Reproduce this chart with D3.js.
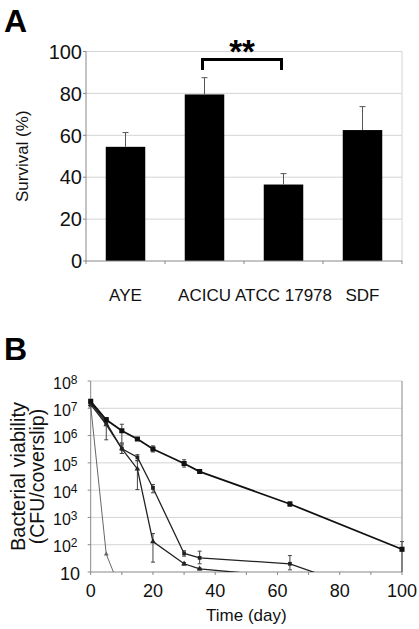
<!DOCTYPE html>
<html>
<head>
<meta charset="utf-8">
<script src="https://cdn.jsdelivr.net/npm/d3@7"></script>
<style>
  html, body { margin: 0; padding: 0; background: #fff; }
  svg { display: block; font-family: "Liberation Sans", Arial, sans-serif; }
</style>
</head>
<body>
<svg id="chart" width="419" height="629"></svg>
<script>
// ---------- Panel A data ----------
const strains = ["AYE", "ACICU", "ATCC 17978", "SDF"];
const survival = [54.5, 79.5, 36.5, 62.5];
const survivalErr = [6.8, 8.0, 5.2, 11.2];
const survivalTicks = [0, 20, 40, 60, 80, 100];

// ---------- Panel B data ----------
const days = [0, 5, 10, 15, 20, 30, 35, 64, 100];
const viabilityS1 = [1.8e7, 3.8e6, 1.5e6, 7.5e5, 3.2e5, 9.5e4, 4.8e4, 3.1e3, 68];
const viabilityS1Lo = [1.5e7, 3.2e6, 5.4e5, 6.6e5, 2.5e5, 7.0e4, 4.2e4, 2.6e3, 5];
const viabilityS1Hi = [2.1e7, 4.6e6, 2.6e6, 8.4e5, 4.2e5, 1.3e5, 5.4e4, 3.7e3, 130];

const daysS2 = [0, 5, 10, 15, 20, 30, 35, 64, 100];
const viabilityS2 = [1.6e7, 3.0e6, 3.3e5, 1.6e5, 1.2e4, 48, 33, 20, 0.7];
const viabilityS2Lo = [1.4e7, 2.4e6, 2.2e5, 1.2e5, 8.0e3, 38, 20, 12, 0.7];
const viabilityS2Hi = [1.8e7, 3.6e6, 5.0e5, 2.0e5, 1.6e4, 60, 58, 40, 0.7];

const daysS3 = [0, 5, 10, 15, 20, 30, 35, 64];
const viabilityS3 = [1.4e7, 2.5e6, 3.3e5, 6.0e4, 130, 20, 13, 6.5];
const viabilityS3Lo = [1.2e7, 7.0e5, 2.2e5, 1.05e4, 23, 18, 12, 6.5];
const viabilityS3Hi = [1.6e7, 4.0e6, 4.5e5, 1.2e5, 256, 22, 14, 6.5];

const daysS4 = [0, 5, 10];
const viabilityS4 = [1.2e7, 45, 1.7];

const dayTicks = [0, 20, 40, 60, 80, 100];
const dayMinorTicks = [0, 10, 20, 30, 40, 50, 60, 70, 80, 90, 100];
const viabilityTicks = [10, 1e2, 1e3, 1e4, 1e5, 1e6, 1e7, 1e8];

const svg = d3.select("#chart");
const gridColor = "#d4d4d4";
const axisColor = "#888";
const textColor = "#111";

// ================= PANEL A =================
const aLeft = 86, aRight = 402, aTop = 51.5, aBottom = 261;
const xA = d3.scaleBand().domain(strains).range([aLeft, aRight]).paddingInner(0.5).paddingOuter(0.25);
const yA = d3.scaleLinear().domain([0, 100]).range([aBottom, aTop]);

svg.append("text").attr("x", 4).attr("y", 32).attr("font-size", 32).attr("font-weight", "bold").text("A");

const gA = svg.append("g");
gA.selectAll("line.grid").data(survivalTicks.filter(d => d > 0)).join("line")
  .attr("x1", aLeft).attr("x2", aRight)
  .attr("y1", d => yA(d)).attr("y2", d => yA(d))
  .attr("stroke", gridColor).attr("stroke-width", 1);
gA.append("line").attr("x1", aRight).attr("x2", aRight).attr("y1", aTop).attr("y2", aBottom)
  .attr("stroke", gridColor);
gA.append("line").attr("x1", aLeft).attr("x2", aLeft).attr("y1", aTop).attr("y2", aBottom)
  .attr("stroke", axisColor);
gA.selectAll("line.ytick").data(survivalTicks).join("line")
  .attr("x1", aLeft - 3).attr("x2", aLeft).attr("y1", d => yA(d)).attr("y2", d => yA(d))
  .attr("stroke", axisColor);
gA.selectAll("text.ytl").data(survivalTicks).join("text")
  .attr("x", aLeft - 4).attr("y", d => yA(d)).attr("dy", "0.36em")
  .attr("text-anchor", "end").attr("font-size", 20).attr("fill", textColor).text(d => d);
gA.selectAll("rect.bar").data(strains).join("rect")
  .attr("x", d => xA(d)).attr("width", xA.bandwidth())
  .attr("y", (d, i) => yA(survival[i])).attr("height", (d, i) => aBottom - yA(survival[i]))
  .attr("fill", "#000");
gA.selectAll("line.err").data(strains).join("line")
  .attr("x1", d => xA(d) + xA.bandwidth() / 2).attr("x2", d => xA(d) + xA.bandwidth() / 2)
  .attr("y1", (d, i) => yA(survival[i])).attr("y2", (d, i) => yA(survival[i] + survivalErr[i]))
  .attr("stroke", "#555").attr("stroke-width", 1);
gA.selectAll("line.cap").data(strains).join("line")
  .attr("x1", d => xA(d) + xA.bandwidth() / 2 - 3).attr("x2", d => xA(d) + xA.bandwidth() / 2 + 3)
  .attr("y1", (d, i) => yA(survival[i] + survivalErr[i])).attr("y2", (d, i) => yA(survival[i] + survivalErr[i]))
  .attr("stroke", "#555").attr("stroke-width", 1);
gA.append("line").attr("x1", aLeft).attr("x2", aRight).attr("y1", aBottom).attr("y2", aBottom)
  .attr("stroke", axisColor);
const boundaries = strains.map(s => xA(s) - xA.step() * 0.25).concat([aRight]);
gA.selectAll("line.xtick").data(boundaries).join("line")
  .attr("x1", d => d).attr("x2", d => d).attr("y1", aBottom).attr("y2", aBottom + 3)
  .attr("stroke", axisColor);
gA.selectAll("text.xtl").data(strains).join("text")
  .attr("x", d => xA(d) + xA.bandwidth() / 2).attr("y", 301)
  .attr("text-anchor", "middle").attr("font-size", 17).attr("fill", textColor).text(d => d);
svg.append("text").attr("transform", `translate(28,${(aTop + aBottom) / 2}) rotate(-90)`)
  .attr("text-anchor", "middle").attr("font-size", 17).attr("fill", textColor).text("Survival (%)");
const bx1 = xA("ACICU") + xA.bandwidth() / 2 - 2, bx2 = xA("ATCC 17978") + xA.bandwidth() / 2 - 2;
gA.append("path")
  .attr("d", `M${bx1},70 V59.5 H${bx2} V70`)
  .attr("fill", "none").attr("stroke", "#000").attr("stroke-width", 3);
gA.append("text").attr("x", (bx1 + bx2) / 2).attr("y", 63).attr("text-anchor", "middle")
  .attr("font-size", 33).attr("font-weight", "bold").text("**");

// ================= PANEL B =================
const bLeft = 90.7, bRight = 402, bTop = 381, bBottom = 572;
const xB = d3.scaleLinear().domain([0, 100]).range([bLeft, bRight]);
const yB = d3.scaleLog().domain([10, 1e8]).range([bBottom, bTop]);

svg.append("text").attr("x", 4).attr("y", 360).attr("font-size", 32).attr("font-weight", "bold").text("B");

const gB = svg.append("g");
gB.selectAll("line.grid").data(viabilityTicks.filter(d => d > 10)).join("line")
  .attr("x1", bLeft).attr("x2", bRight).attr("y1", d => yB(d)).attr("y2", d => yB(d))
  .attr("stroke", gridColor);
gB.append("line").attr("x1", bRight).attr("x2", bRight).attr("y1", bTop).attr("y2", bBottom)
  .attr("stroke", axisColor);
gB.append("line").attr("x1", bLeft).attr("x2", bLeft).attr("y1", bTop).attr("y2", bBottom)
  .attr("stroke", axisColor);
gB.append("line").attr("x1", bLeft).attr("x2", bRight).attr("y1", bBottom).attr("y2", bBottom)
  .attr("stroke", axisColor);
gB.selectAll("line.ytick").data(viabilityTicks).join("line")
  .attr("x1", bLeft - 3).attr("x2", bLeft).attr("y1", d => yB(d)).attr("y2", d => yB(d))
  .attr("stroke", axisColor);
gB.selectAll("line.xtick").data(dayMinorTicks).join("line")
  .attr("x1", d => xB(d)).attr("x2", d => xB(d)).attr("y1", bBottom).attr("y2", bBottom + 3)
  .attr("stroke", axisColor);
const ytl = gB.selectAll("text.ytl").data(viabilityTicks).join("text")
  .attr("x", 77.5).attr("y", d => yB(d) + 2).attr("dy", "0.36em")
  .attr("text-anchor", "end").attr("font-size", 16).attr("fill", textColor);
ytl.each(function(d) {
  const e = Math.round(Math.log10(d));
  const t = d3.select(this);
  if (e === 1) { t.attr("x", 80).attr("font-size", 18).text("10"); return; }
  t.append("tspan").text("10");
  t.append("tspan").attr("dy", -5).attr("font-size", 12).text(e);
});
gB.selectAll("text.xtl").data(dayTicks).join("text")
  .attr("x", d => xB(d)).attr("y", 597).attr("text-anchor", "middle")
  .attr("font-size", 18).attr("fill", textColor).text(d => d);
svg.append("text").attr("x", (bLeft + bRight) / 2).attr("y", 621).attr("text-anchor", "middle")
  .attr("font-size", 17).attr("fill", textColor).text("Time (day)");
svg.append("text").attr("transform", `translate(25,${(bTop + bBottom) / 2}) rotate(-90)`)
  .attr("text-anchor", "middle").attr("font-size", 20).attr("fill", textColor).text("Bacterial viability");
svg.append("text").attr("transform", `translate(44,${(bTop + bBottom) / 2}) rotate(-90)`)
  .attr("text-anchor", "middle").attr("font-size", 19.5).attr("fill", textColor).text("(CFU/coverslip)");

svg.append("clipPath").attr("id", "clipB").append("rect")
  .attr("x", bLeft - 5).attr("y", bTop - 5).attr("width", bRight - bLeft + 10).attr("height", bBottom - bTop + 5);
const plotB = gB.append("g").attr("clip-path", "url(#clipB)");

function drawSeries(xs, vs, lo, hi, color, width, marker, msize) {
  const pts = xs.map((x, i) => [x, vs[i]]);
  const line = d3.line().x(d => xB(d[0])).y(d => yB(d[1]));
  if (lo) {
    xs.forEach((x, i) => {
      if (lo[i] === hi[i]) return;
      const cx = xB(x);
      plotB.append("line").attr("x1", cx).attr("x2", cx).attr("y1", yB(lo[i])).attr("y2", yB(hi[i]))
        .attr("stroke", "#444").attr("stroke-width", 1);
      [lo[i], hi[i]].forEach(v => plotB.append("line").attr("x1", cx - 2).attr("x2", cx + 2)
        .attr("y1", yB(v)).attr("y2", yB(v)).attr("stroke", "#444").attr("stroke-width", 1));
    });
  }
  plotB.append("path").attr("d", line(pts)).attr("fill", "none").attr("stroke", color).attr("stroke-width", width);
  const vis = pts.filter(d => d[1] >= 10);
  const sym = d3.symbol().type(marker).size(msize);
  plotB.selectAll(null).data(vis).join("path")
    .attr("transform", d => `translate(${xB(d[0])},${yB(d[1])})`)
    .attr("d", sym).attr("fill", color);
}

drawSeries(daysS4, viabilityS4, null, null, "#666", 1, d3.symbolTriangle, 10);
drawSeries(daysS3, viabilityS3, viabilityS3Lo, viabilityS3Hi, "#222", 1.3, d3.symbolTriangle, 14);
drawSeries(daysS2, viabilityS2, viabilityS2Lo, viabilityS2Hi, "#222", 1.3, d3.symbolSquare, 14);
drawSeries(days, viabilityS1, viabilityS1Lo, viabilityS1Hi, "#111", 1.8, d3.symbolSquare, 26);
</script>
</body>
</html>
